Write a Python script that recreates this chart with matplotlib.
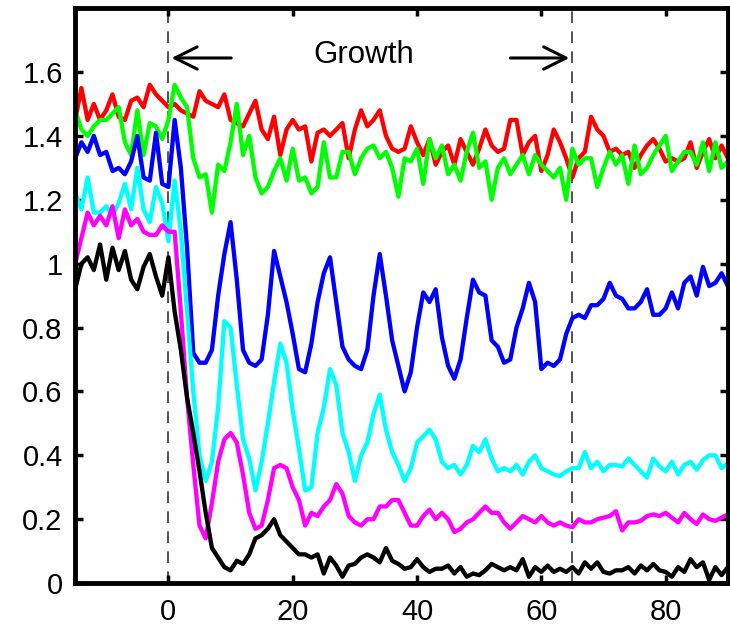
import numpy as np
import matplotlib
matplotlib.use('Agg')
import matplotlib.pyplot as plt
from matplotlib.ticker import FuncFormatter

plt.rcParams['font.family'] = ['Liberation Sans', 'DejaVu Sans']

x_start = -15

red = [1.45, 1.55, 1.45, 1.50, 1.45, 1.48, 1.53, 1.46, 1.45, 1.51,
       1.52, 1.49, 1.56, 1.53, 1.51, 1.49, 1.50, 1.48, 1.47, 1.46,
       1.54, 1.51, 1.50, 1.49, 1.53, 1.45, 1.44, 1.43, 1.47, 1.51,
       1.42, 1.39, 1.46, 1.34, 1.42, 1.45, 1.42, 1.43, 1.32, 1.41,
       1.42, 1.40, 1.42, 1.44, 1.33, 1.42, 1.48, 1.43, 1.45, 1.48,
       1.40, 1.36, 1.35, 1.36, 1.43, 1.38, 1.34, 1.39, 1.31, 1.35,
       1.37, 1.31, 1.39, 1.35, 1.31, 1.36, 1.42, 1.37, 1.35, 1.36,
       1.45, 1.45, 1.34, 1.38, 1.40, 1.29, 1.34, 1.42, 1.38, 1.33,
       1.27, 1.33, 1.35, 1.46, 1.42, 1.40, 1.35, 1.36, 1.34, 1.35,
       1.30, 1.34, 1.37, 1.39, 1.36, 1.32, 1.33, 1.32, 1.33, 1.38,
       1.30, 1.35, 1.39, 1.33, 1.37, 1.33]

green = [1.48, 1.42, 1.40, 1.43, 1.45, 1.45, 1.47, 1.49, 1.38, 1.34,
         1.48, 1.34, 1.44, 1.43, 1.39, 1.45, 1.56, 1.52, 1.49, 1.33,
         1.27, 1.28, 1.16, 1.31, 1.29, 1.38, 1.50, 1.34, 1.40, 1.27,
         1.22, 1.24, 1.29, 1.33, 1.26, 1.36, 1.26, 1.27, 1.22, 1.24,
         1.38, 1.27, 1.27, 1.35, 1.35, 1.28, 1.33, 1.36, 1.37, 1.33,
         1.35, 1.30, 1.21, 1.33, 1.32, 1.36, 1.25, 1.39, 1.33, 1.37,
         1.28, 1.31, 1.26, 1.35, 1.41, 1.30, 1.32, 1.20, 1.30, 1.33,
         1.28, 1.31, 1.34, 1.28, 1.34, 1.31, 1.29, 1.27, 1.30, 1.20,
         1.36, 1.31, 1.33, 1.33, 1.24, 1.30, 1.35, 1.31, 1.34, 1.25,
         1.37, 1.28, 1.30, 1.34, 1.37, 1.40, 1.29, 1.32, 1.35, 1.35,
         1.31, 1.38, 1.29, 1.38, 1.30, 1.32]

blue = [1.33, 1.38, 1.35, 1.40, 1.34, 1.35, 1.29, 1.30, 1.28, 1.32,
        1.40, 1.27, 1.26, 1.41, 1.25, 1.24, 1.45, 1.30, 1.05, 0.72,
        0.69, 0.69, 0.73, 0.90, 1.03, 1.13, 0.95, 0.73, 0.69, 0.68,
        0.70, 0.84, 1.04, 0.96, 0.88, 0.78, 0.67, 0.66, 0.75, 0.88,
        0.97, 1.02, 0.88, 0.74, 0.70, 0.68, 0.67, 0.73, 0.90, 1.03,
        0.90, 0.76, 0.68, 0.60, 0.66, 0.80, 0.91, 0.88, 0.92, 0.77,
        0.68, 0.64, 0.70, 0.83, 0.95, 0.91, 0.90, 0.76, 0.74, 0.69,
        0.70, 0.80, 0.86, 0.94, 0.88, 0.67, 0.69, 0.68, 0.70, 0.78,
        0.83, 0.84, 0.83, 0.87, 0.87, 0.89, 0.94, 0.90, 0.89, 0.86,
        0.86, 0.88, 0.92, 0.84, 0.84, 0.86, 0.91, 0.86, 0.94, 0.96,
        0.90, 0.99, 0.93, 0.94, 0.97, 0.93]

cyan = [1.22, 1.17, 1.27, 1.16, 1.16, 1.18, 1.15, 1.19, 1.25, 1.17,
        1.30, 1.17, 1.13, 1.24, 1.19, 1.07, 1.26, 1.10, 0.85, 0.60,
        0.40, 0.32, 0.38, 0.55, 0.82, 0.80, 0.62, 0.45, 0.39, 0.29,
        0.38, 0.50, 0.63, 0.75, 0.69, 0.54, 0.42, 0.29, 0.30, 0.47,
        0.55, 0.67, 0.62, 0.47, 0.41, 0.32, 0.40, 0.44, 0.53, 0.59,
        0.48, 0.41, 0.37, 0.32, 0.36, 0.44, 0.46, 0.48, 0.45, 0.38,
        0.36, 0.37, 0.34, 0.37, 0.43, 0.41, 0.45, 0.39, 0.35, 0.36,
        0.35, 0.37, 0.34, 0.38, 0.40, 0.36, 0.35, 0.34, 0.335, 0.35,
        0.36, 0.36, 0.41, 0.36, 0.38, 0.35, 0.37, 0.37, 0.365, 0.39,
        0.37, 0.35, 0.33, 0.39, 0.365, 0.35, 0.38, 0.34, 0.37, 0.38,
        0.355, 0.385, 0.40, 0.40, 0.36, 0.375]

magenta = [1.00, 1.08, 1.16, 1.12, 1.15, 1.12, 1.18, 1.08, 1.17, 1.12,
           1.14, 1.10, 1.09, 1.09, 1.12, 1.10, 1.10, 0.85, 0.58, 0.37,
           0.18, 0.14, 0.25, 0.38, 0.45, 0.47, 0.44, 0.34, 0.22, 0.17,
           0.18, 0.26, 0.36, 0.37, 0.36, 0.30, 0.26, 0.18, 0.22, 0.21,
           0.24, 0.26, 0.31, 0.28, 0.21, 0.19, 0.18, 0.20, 0.20, 0.24,
           0.24, 0.26, 0.26, 0.22, 0.18, 0.18, 0.21, 0.23, 0.20, 0.22,
           0.20, 0.16, 0.17, 0.19, 0.20, 0.22, 0.24, 0.22, 0.22, 0.19,
           0.17, 0.19, 0.21, 0.20, 0.19, 0.21, 0.19, 0.18, 0.19, 0.18,
           0.175, 0.20, 0.19, 0.19, 0.20, 0.205, 0.21, 0.225, 0.165, 0.19,
           0.19, 0.195, 0.21, 0.215, 0.21, 0.22, 0.205, 0.19, 0.22, 0.20,
           0.185, 0.215, 0.20, 0.195, 0.205, 0.215]

black = [0.92, 1.00, 1.02, 0.98, 1.06, 0.95, 1.05, 0.98, 1.04, 0.95,
         0.92, 0.99, 1.03, 0.96, 0.90, 1.02, 0.85, 0.73, 0.58, 0.47,
         0.35, 0.22, 0.11, 0.08, 0.05, 0.04, 0.07, 0.06, 0.09, 0.14,
         0.15, 0.17, 0.20, 0.15, 0.13, 0.11, 0.09, 0.09, 0.08, 0.09,
         0.03, 0.08, 0.055, 0.02, 0.055, 0.06, 0.08, 0.09, 0.08, 0.065,
         0.11, 0.07, 0.06, 0.045, 0.05, 0.075, 0.05, 0.035, 0.045, 0.045,
         0.055, 0.03, 0.05, 0.02, 0.03, 0.025, 0.04, 0.06, 0.05, 0.04,
         0.05, 0.04, 0.075, 0.02, 0.05, 0.035, 0.055, 0.035, 0.045, 0.035,
         0.05, 0.03, 0.065, 0.045, 0.065, 0.035, 0.03, 0.04, 0.04, 0.05,
         0.03, 0.055, 0.04, 0.06, 0.04, 0.035, 0.02, 0.05, 0.035, 0.075,
         0.05, 0.065, 0.01, 0.05, 0.025, 0.05]

series = [(red, '#ff0000'), (green, '#00ff00'), (blue, '#0000ff'),
          (cyan, '#00ffff'), (magenta, '#ff00ff'), (black, '#000000')]

growth_start = 0
growth_end = 65

xticks = [0, 20, 40, 60, 80]
yticks = [0, 0.2, 0.4, 0.6, 0.8, 1.0, 1.2, 1.4, 1.6]

fig = plt.figure(figsize=(7.3, 6.27), dpi=100)
ax = fig.add_axes([0.103, 0.070, 0.894, 0.917])

for vals, col in series:
    x = np.arange(x_start, x_start + len(vals))
    ax.plot(x, vals, color=col, lw=3.1)

for xv in (growth_start, growth_end):
    ax.axvline(xv, color='#333333', lw=1.2, ls=(0, (7, 5)), zorder=0.5)

# arrows pointing out to the growth window edges
arrow = dict(arrowstyle='->, head_length=0.8, head_width=0.4', lw=2.2,
             color='k', mutation_scale=20, shrinkA=0, shrinkB=0)
ax.annotate('', xy=(growth_start + 0.5, 1.644), xytext=(10.1, 1.644),
            arrowprops=arrow)
ax.annotate('', xy=(growth_end - 0.5, 1.644), xytext=(55, 1.644),
            arrowprops=arrow)
ax.text(31.5, 1.652, 'Growth', ha='center', va='center', fontsize=22.5)

ax.set_xlim(-15, 90)
ax.set_ylim(0, 1.8)
ax.set_xticks(xticks)
ax.set_yticks(yticks)
ax.yaxis.set_major_formatter(FuncFormatter(lambda v, p: '%g' % v))
ax.tick_params(direction='in', length=6, width=2.5, top=True, right=True,
               labelsize=21)
ax.tick_params(axis='x', pad=11)
ax.tick_params(axis='y', pad=9)
for s in ax.spines.values():
    s.set_linewidth(3.5)

fig.savefig('out.png', dpi=100)
